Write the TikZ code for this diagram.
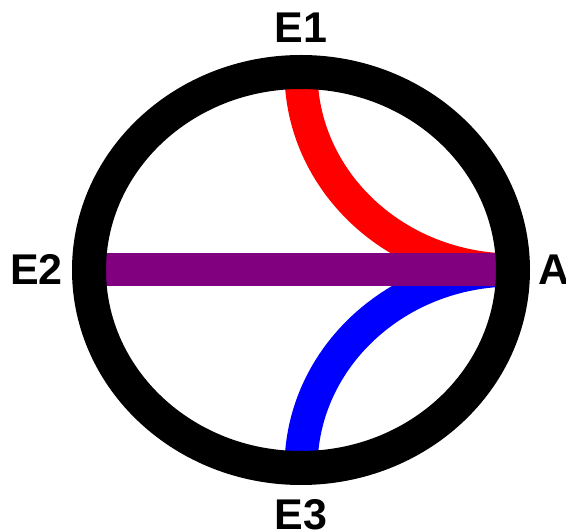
\documentclass[tikz,border=0pt]{standalone}
\usepackage{fontspec}
\setmainfont{Liberation Sans}
\definecolor{geored}{RGB}{255,0,0}
\definecolor{geoblue}{RGB}{0,0,255}
\definecolor{geopurple}{RGB}{128,0,128}
\begin{document}
\begin{tikzpicture}[x=1pt,y=1pt,
  ringstyle/.style={draw=black,line width=34pt},
  geoline/.style={line width=33pt},
  lbl/.style={inner sep=0pt,font=\bfseries\fontsize{43}{43}\selectfont}]
\useasboundingbox (0,0) rectangle (566,530);
\coordinate (O) at (301,260);
\coordinate (E1) at (301,458);
\coordinate (E3) at (301,62);
\coordinate (E2) at (89,260);
\coordinate (A) at (513,260);
% geodesics
\draw[geoline,geored] (E1) arc[start angle=180,end angle=270,x radius=212pt,y radius=198pt];
\draw[geoline,geoblue] (E3) arc[start angle=180,end angle=90,x radius=212pt,y radius=198pt];
\draw[geoline,geopurple] (E2) -- (A);
% boundary
\draw[ringstyle] (O) ellipse[x radius=212pt,y radius=198pt];
% labels
\node[lbl,anchor=base] (lE1) at (301,487) {E1};
\node[lbl,anchor=base east] (lE2) at (63,245) {E2};
\node[lbl,anchor=base] (lE3) at (301,0) {E3};
\node[lbl,anchor=base west] (lA) at (538,245) {A};
\end{tikzpicture}
\end{document}
